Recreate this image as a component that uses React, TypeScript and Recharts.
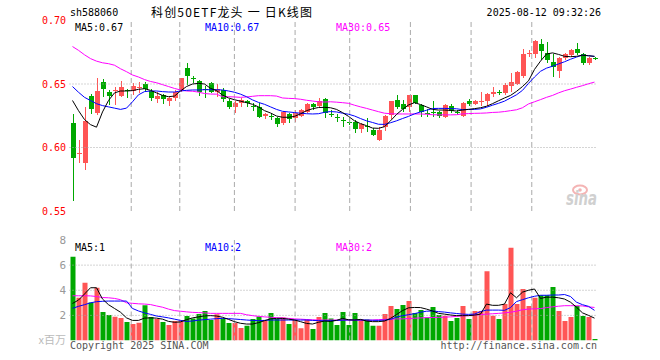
import React from 'react';
import {
  ComposedChart,
  Bar,
  Line,
  XAxis,
  YAxis,
  ReferenceLine,
  ReferenceArea,
  Cell,
} from 'recharts';

const RED = '#ff5555';
const GREEN = '#00a800';
const GRID = '#aaaaaa';
const BORDER = '#999999';
const MONO = '"DejaVu Sans Mono", monospace';
const CJK = '"Noto Sans CJK SC", sans-serif';

const dates = [
  '04-07', '04-08', '04-09', '04-10', '04-11', '04-14', '04-15', '04-16', '04-17', '04-18',
  '04-21', '04-22', '04-23', '04-24', '04-25', '04-28', '04-29', '04-30', '05-06', '05-07',
  '05-08', '05-09', '05-12', '05-13', '05-14', '05-15', '05-16', '05-19', '05-20', '05-21',
  '05-22', '05-23', '05-26', '05-27', '05-28', '05-29', '05-30', '06-03', '06-04', '06-05',
  '06-06', '06-09', '06-10', '06-11', '06-12', '06-13', '06-16', '06-17', '06-18', '06-19',
  '06-20', '06-23', '06-24', '06-25', '06-26', '06-27', '06-30', '07-01', '07-02', '07-03',
  '07-04', '07-07', '07-08', '07-09', '07-10', '07-11', '07-14', '07-15', '07-16', '07-17',
  '07-18', '07-21', '07-22', '07-23', '07-24', '07-25', '07-28', '07-29', '07-30', '07-31',
  '08-01', '08-04', '08-05', '08-06', '08-07', '08-08', '08-11', '08-12',
];

const tickKeys = ['04-21', '05-06', '05-19', '06-03', '06-16', '06-30', '07-14', '07-28', '08-12'];
const tickLabels = ['2025-04-21', '05-06', '05-19', '06-03', '06-16', '06-30', '07-14', '07-28', '08-12'];

const openP = [
  0.6196, 0.595, 0.5881, 0.6408, 0.6274, 0.6518, 0.644, 0.6445, 0.6408, 0.6453,
  0.6448, 0.6471, 0.65, 0.6448, 0.6385, 0.6413, 0.6369, 0.6387, 0.6453, 0.6629,
  0.6547, 0.6524, 0.6458, 0.6505, 0.644, 0.6453, 0.6369, 0.6322, 0.6348, 0.6369,
  0.6324, 0.6316, 0.6248, 0.625, 0.623, 0.6196, 0.6264, 0.623, 0.6248, 0.6282,
  0.6343, 0.6327, 0.6382, 0.6266, 0.624, 0.6214, 0.6204, 0.6203, 0.6143, 0.6166,
  0.6138, 0.6059, 0.6164, 0.6256, 0.6374, 0.6343, 0.6316, 0.6413, 0.6335, 0.6271,
  0.6278, 0.6282, 0.6238, 0.6327, 0.6282, 0.6248, 0.6366, 0.6343, 0.6368, 0.6366,
  0.6419, 0.6435, 0.6427, 0.6484, 0.6497, 0.6563, 0.674, 0.6734, 0.6815, 0.6741,
  0.6671, 0.6605, 0.6702, 0.6728, 0.6776, 0.6734, 0.6668, 0.6703,
];
const closeP = [
  0.592, 0.5955, 0.6209, 0.6303, 0.6445, 0.6461, 0.6408, 0.645, 0.6479, 0.6445,
  0.6484, 0.6475, 0.6458, 0.6392, 0.6408, 0.6382, 0.6392, 0.644, 0.6547, 0.6563,
  0.6542, 0.644, 0.6455, 0.644, 0.6458, 0.6379, 0.6322, 0.6353, 0.6374, 0.6348,
  0.6321, 0.6243, 0.6264, 0.6248, 0.6185, 0.6282, 0.6222, 0.6269, 0.6295, 0.6343,
  0.6322, 0.6366, 0.6274, 0.6264, 0.6238, 0.6211, 0.6201, 0.6143, 0.6185, 0.6164,
  0.6098, 0.6138, 0.6248, 0.6366, 0.6322, 0.63, 0.6413, 0.6353, 0.6282, 0.6269,
  0.6276, 0.6248, 0.6335, 0.629, 0.6269, 0.6348, 0.6343, 0.6366, 0.637, 0.6419,
  0.6437, 0.6434, 0.6492, 0.6513, 0.6594, 0.6736, 0.6744, 0.6839, 0.6762, 0.6689,
  0.6631, 0.6702, 0.6736, 0.6768, 0.6747, 0.6668, 0.6707, 0.67,
];
const highP = [
  0.6264, 0.6059, 0.6316, 0.6419, 0.655, 0.6537, 0.6453, 0.6479, 0.6526, 0.6458,
  0.6505, 0.6513, 0.6513, 0.6461, 0.644, 0.6421, 0.64, 0.6453, 0.655, 0.6668,
  0.6563, 0.6531, 0.6484, 0.6518, 0.65, 0.6466, 0.6379, 0.6369, 0.6387, 0.6374,
  0.6348, 0.6348, 0.6274, 0.6274, 0.6238, 0.629, 0.6274, 0.6295, 0.63, 0.6353,
  0.6353, 0.6387, 0.6392, 0.6295, 0.6264, 0.6238, 0.623, 0.6216, 0.619, 0.623,
  0.6151, 0.6159, 0.6256, 0.6369, 0.6413, 0.6374, 0.6416, 0.6416, 0.6343, 0.6301,
  0.6366, 0.629, 0.6343, 0.6343, 0.6295, 0.6361, 0.6382, 0.6374, 0.644, 0.6427,
  0.6474, 0.6453, 0.6505, 0.6589, 0.66, 0.6773, 0.6768, 0.6847, 0.6852, 0.6833,
  0.6736, 0.671, 0.6741, 0.6773, 0.682, 0.6741, 0.6715, 0.6715,
];
const lowP = [
  0.558, 0.5875, 0.5823, 0.6264, 0.6256, 0.64, 0.6335, 0.6335, 0.64, 0.6387,
  0.6413, 0.6427, 0.644, 0.6369, 0.6348, 0.6343, 0.6327, 0.6369, 0.644, 0.6492,
  0.6505, 0.6408, 0.6387, 0.6427, 0.64, 0.6361, 0.6303, 0.6269, 0.6316, 0.6316,
  0.629, 0.623, 0.6222, 0.6217, 0.6164, 0.6177, 0.6196, 0.6203, 0.6238, 0.6274,
  0.6295, 0.6308, 0.623, 0.6238, 0.6203, 0.6159, 0.6177, 0.6117, 0.6117, 0.6125,
  0.6091, 0.6051, 0.6133, 0.6222, 0.6303, 0.6282, 0.6282, 0.6343, 0.6243, 0.6243,
  0.6238, 0.623, 0.623, 0.6274, 0.6256, 0.6238, 0.6327, 0.6335, 0.6327, 0.6327,
  0.64, 0.6413, 0.6413, 0.644, 0.6492, 0.6545, 0.6715, 0.6702, 0.6689, 0.6668,
  0.6558, 0.6545, 0.6689, 0.671, 0.6728, 0.665, 0.665, 0.6689,
];

const ma5 = [
  0.637, 0.629, 0.622, 0.618, 0.616, 0.628, 0.637, 0.643, 0.6445, 0.6445,
  0.6448, 0.6458, 0.6463, 0.645, 0.643, 0.641, 0.64, 0.6405, 0.6445, 0.648,
  0.65, 0.6505, 0.65, 0.6466, 0.6448, 0.6413, 0.639, 0.6376, 0.6365, 0.6353,
  0.634, 0.632, 0.629, 0.6272, 0.6248, 0.6238, 0.6238, 0.6245, 0.6265, 0.629,
  0.6305, 0.6315, 0.6316, 0.6313, 0.63, 0.6275, 0.6245, 0.621, 0.6188, 0.6172,
  0.6153, 0.6151, 0.6164, 0.621, 0.626, 0.63, 0.6335, 0.6353, 0.6338, 0.632,
  0.63, 0.6295, 0.6295, 0.6292, 0.6287, 0.6295, 0.63, 0.6306, 0.6313, 0.6325,
  0.6345, 0.6368, 0.639, 0.641, 0.6442, 0.648, 0.6525, 0.6615, 0.668, 0.6736,
  0.6745, 0.6733, 0.6718, 0.6715, 0.6718, 0.6727, 0.6722, 0.6718,
];
const ma10 = [
  0.648, 0.6435, 0.6395, 0.637, 0.6345, 0.633, 0.632, 0.631, 0.63, 0.631,
  0.636, 0.6415, 0.644, 0.6445, 0.6445, 0.644, 0.6437, 0.6437, 0.6445, 0.645,
  0.6453, 0.6453, 0.6455, 0.6455, 0.6455, 0.6453, 0.6445, 0.6435, 0.642, 0.64,
  0.6375, 0.6355, 0.634, 0.632, 0.63, 0.6285, 0.628, 0.6275, 0.627, 0.6266,
  0.6264, 0.6266, 0.6277, 0.6283, 0.628, 0.627, 0.6262, 0.6248, 0.6228, 0.621,
  0.6197, 0.6183, 0.6182, 0.6195, 0.621, 0.6228, 0.6245, 0.6265, 0.628, 0.6293,
  0.6307, 0.6308, 0.6308, 0.6306, 0.6305, 0.6298, 0.63, 0.63, 0.6304, 0.6317,
  0.6333, 0.6348, 0.6365, 0.639, 0.6415, 0.645, 0.6505, 0.6555, 0.66, 0.6625,
  0.664, 0.6658, 0.6675, 0.6695, 0.6712, 0.6727, 0.6723, 0.6717,
];
const ma30 = [
  0.6795, 0.6765, 0.673, 0.67, 0.668, 0.6667, 0.666, 0.6648, 0.662, 0.6597,
  0.6571, 0.6555, 0.6535, 0.652, 0.651, 0.6495, 0.648, 0.6465, 0.6453, 0.6445,
  0.6443, 0.6436, 0.6425, 0.6421, 0.642, 0.64, 0.64, 0.6398, 0.6395, 0.6398,
  0.6403, 0.6408, 0.6408, 0.6408, 0.6405, 0.639, 0.6387, 0.6385, 0.638, 0.6372,
  0.6366, 0.636, 0.6358, 0.636, 0.6357, 0.6353, 0.6348, 0.6333, 0.632, 0.6308,
  0.6295, 0.6282, 0.627, 0.6266, 0.6264, 0.6264, 0.6264, 0.6264, 0.6264, 0.6262,
  0.6258, 0.6257, 0.6257, 0.6257, 0.6258, 0.6265, 0.6267, 0.6269, 0.627, 0.6272,
  0.6276, 0.6278, 0.6283, 0.629, 0.6297, 0.6313, 0.6343, 0.636, 0.6377, 0.6395,
  0.641, 0.643, 0.6447, 0.646, 0.6474, 0.6487, 0.6502, 0.6515,
];

// volume, x 1,000,000
const volume = [
  6.67, 3.4, 4.6, 3.03, 4.2, 2.27, 2.03, 1.9, 1.79, 1.47,
  1.31, 1.42, 2.8, 1.87, 1.71, 1.47, 1.23, 1.55, 1.6, 1.95,
  1.76, 2.1, 2.35, 1.63, 2.08, 1.76, 1.39, 1.39, 0.99, 1.18,
  1.71, 1.92, 1.55, 2.18, 1.71, 1.84, 1.31, 1.68, 0.97, 1.68,
  0.92, 1.87, 2.18, 1.76, 1.23, 2.27, 1.23, 2.18, 1.68, 1.68,
  1.18, 1.18, 2.1, 2.74, 2.5, 2.82, 3.14, 2.18, 2.42, 1.84,
  2.66, 2.03, 1.98, 1.55, 1.79, 2.74, 1.71, 2.35, 2.35, 5.52,
  1.98, 1.71, 2.9, 7.38, 2.9, 4.09, 2.74, 3.4, 3.61, 3.61,
  4.25, 2.35, 1.55, 1.87, 2.74, 1.95, 1.87, 0.12,
];
const volMa5 = [
  2.95, 3.22, 3.7, 4.2, 4.2, 3.3, 2.85, 2.55, 2.25, 1.8,
  1.6, 1.6, 1.78, 1.8, 1.78, 1.7, 1.52, 1.45, 1.48, 1.66,
  1.8, 1.88, 1.96, 1.98, 1.95, 1.85, 1.68, 1.5, 1.37, 1.31,
  1.31, 1.42, 1.58, 1.72, 1.76, 1.76, 1.7, 1.63, 1.5, 1.36,
  1.31, 1.45, 1.55, 1.52, 1.6, 1.76, 1.65, 1.63, 1.68, 1.55,
  1.5, 1.5, 1.55, 1.76, 2.06, 2.38, 2.6, 2.63, 2.62, 2.5,
  2.35, 2.16, 2.1, 2.03, 1.98, 1.98, 1.98, 2.02, 2.1, 2.9,
  2.8, 2.8, 2.9, 3.8, 3.4, 3.85, 4.0, 4.1, 3.35, 3.45,
  3.45, 3.4, 3.3, 3.05, 2.65, 2.2, 2.0, 1.78,
];
const volMa10 = [
  2.56, 2.72, 2.85, 3.0, 3.09, 3.12, 3.14, 3.14, 3.14, 3.14,
  2.55, 2.35, 2.2, 2.08, 1.95, 1.88, 1.8, 1.7, 1.6, 1.52,
  1.55, 1.62, 1.66, 1.7, 1.74, 1.76, 1.74, 1.71, 1.67, 1.63,
  1.6, 1.58, 1.6, 1.63, 1.63, 1.63, 1.63, 1.63, 1.63, 1.63,
  1.6, 1.58, 1.57, 1.58, 1.6, 1.62, 1.63, 1.63, 1.63, 1.63,
  1.61, 1.6, 1.62, 1.68, 1.86, 1.98, 2.05, 2.14, 2.25, 2.33,
  2.35, 2.3, 2.26, 2.2, 2.15, 2.1, 2.08, 2.1, 2.3, 2.42,
  2.42, 2.42, 2.4, 2.62, 3.1, 3.25, 3.4, 3.52, 3.6, 3.6,
  3.62, 3.62, 3.66, 3.5, 3.05, 2.85, 2.72, 2.4,
];
const volMa30 = [
  3.56, 3.56, 3.56, 3.55, 3.5, 3.42, 3.4, 3.35, 3.25, 3.0,
  2.96, 2.92, 2.9, 2.86, 2.75, 2.65, 2.5, 2.38, 2.33, 2.28,
  2.24, 2.22, 2.2, 2.16, 2.16, 2.16, 2.16, 2.16, 2.16, 2.05,
  1.98, 1.92, 1.88, 1.85, 1.82, 1.8, 1.76, 1.72, 1.7, 1.67,
  1.65, 1.63, 1.63, 1.63, 1.63, 1.63, 1.63, 1.63, 1.62, 1.61,
  1.63, 1.66, 1.68, 1.7, 1.72, 1.72, 1.75, 1.77, 1.8, 1.82,
  1.83, 1.84, 1.86, 1.88, 1.92, 1.96, 1.98, 2.03, 2.06, 2.1,
  2.13, 2.16, 2.2, 2.25, 2.33, 2.45, 2.5, 2.52, 2.54, 2.62,
  2.68, 2.73, 2.77, 2.77, 2.77, 2.75, 2.68, 2.63,
];

const rows = dates.map((date, i) => ({
  date,
  open: openP[i],
  close: closeP[i],
  high: highP[i],
  low: lowP[i],
  ma5: ma5[i],
  ma10: ma10[i],
  ma30: ma30[i],
  vol: volume[i],
  vma5: volMa5[i],
  vma10: volMa10[i],
  vma30: volMa30[i],
}));

// grid lines sit a little left of the candle centre, like the original
const gridTicks = tickKeys.map((k) => dates.indexOf(k) + 0.17);
const fmtTick = (v: number) => tickLabels[gridTicks.indexOf(v)] ?? '';

function Candle(props: any) {
  const { x, y, width, height, payload } = props;
  if (x == null || !payload) return null;
  const top = Math.min(y, y + height);
  const bottom = Math.max(y, y + height);
  const span = payload.high - payload.low;
  const toPx = (v: number) => (span > 0 ? top + ((payload.high - v) / span) * (bottom - top) : top);
  const up = payload.close >= payload.open;
  const color = up ? RED : GREEN;
  const cx = x + width / 2;
  const bTop = toPx(Math.max(payload.open, payload.close));
  const bBot = toPx(Math.min(payload.open, payload.close));
  return (
    <g shapeRendering="crispEdges">
      <line x1={cx} x2={cx} y1={top} y2={bottom} stroke={color} strokeWidth={1} />
      <rect x={x} y={bTop} width={width} height={Math.max(1, bBot - bTop)} fill={color} />
    </g>
  );
}

const monoTick = (fill: string) => ({ fill, fontSize: 10, fontFamily: MONO });

export default function App() {
  return (
    <div style={{ position: 'relative', width: 660, height: 360, background: '#fff' }}>
      <style>{'body{margin:0}'}</style>

      <div style={{ position: 'absolute', left: 0, top: 0 }}>
        <ComposedChart width={660} height={232} data={rows} margin={{ top: 20.5, right: 62.5, bottom: 0, left: 0 }}>
          <XAxis xAxisId="c" dataKey="date" type="category" hide />
          <XAxis
            xAxisId="g"
            type="number"
            domain={[0, 88]}
            allowDataOverflow
            ticks={gridTicks}
            tickFormatter={fmtTick}
            interval={0}
            height={21}
            axisLine={{ stroke: BORDER }}
            tickLine={false}
            tickSize={0}
            tickMargin={7}
            tick={monoTick('#1479c9')}
          />
          <YAxis
            yAxisId="p"
            domain={[0.55, 0.7]}
            allowDataOverflow
            ticks={[0.55, 0.6, 0.65, 0.7]}
            interval={0}
            width={69.5}
            tickFormatter={(v: number) => v.toFixed(2)}
            axisLine={false}
            tickLine={false}
            tickSize={0}
            tickMargin={3.5}
            tick={monoTick('#ff0000')}
          />
          {[0.6, 0.65].map((v) => (
            <ReferenceLine key={v} xAxisId="g" yAxisId="p" y={v} stroke={GRID} strokeDasharray="1 2" />
          ))}
          {gridTicks.map((t) => (
            <ReferenceLine key={t} xAxisId="g" yAxisId="p" x={t} stroke={GRID} strokeDasharray="5 3" />
          ))}
          <ReferenceArea xAxisId="g" yAxisId="p" x1={0} x2={88} y1={0.55} y2={0.7} fill="none" stroke={BORDER} strokeWidth={1.5} />
          <Bar
            xAxisId="c"
            yAxisId="p"
            dataKey={(d: any) => [d.low, d.high]}
            barSize={5}
            shape={Candle}
            isAnimationActive={false}
          />
          <Line xAxisId="c" yAxisId="p" dataKey="ma30" stroke="#ff00ff" strokeWidth={1} dot={false} isAnimationActive={false} />
          <Line xAxisId="c" yAxisId="p" dataKey="ma10" stroke="#0000ff" strokeWidth={1} dot={false} isAnimationActive={false} />
          <Line xAxisId="c" yAxisId="p" dataKey="ma5" stroke="#000000" strokeWidth={1} dot={false} isAnimationActive={false} />
        </ComposedChart>
      </div>

      <div style={{ position: 'absolute', left: 0, top: 232 }}>
        <ComposedChart width={660} height={128} data={rows} margin={{ top: 8, right: 62.5, bottom: 19.5, left: 0 }}>
          <XAxis xAxisId="c" dataKey="date" type="category" hide />
          <XAxis xAxisId="g" type="number" domain={[0, 88]} allowDataOverflow hide />
          <YAxis
            yAxisId="v"
            domain={[0, 8]}
            allowDataOverflow
            ticks={[2, 4, 6, 8]}
            interval={0}
            width={69.5}
            axisLine={false}
            tickLine={false}
            tickSize={0}
            tickMargin={3.5}
            tick={{ fill: '#999999', fontSize: 11, fontFamily: MONO }}
          />
          {[2, 4, 6].map((v) => (
            <ReferenceLine key={v} xAxisId="g" yAxisId="v" y={v} stroke={GRID} strokeDasharray="1 2" />
          ))}
          {gridTicks.map((t) => (
            <ReferenceLine key={t} xAxisId="g" yAxisId="v" x={t} stroke={GRID} strokeDasharray="5 3" />
          ))}
          <ReferenceArea xAxisId="g" yAxisId="v" x1={0} x2={88} y1={0} y2={8} fill="none" stroke={BORDER} strokeWidth={1.5} />
          <Bar xAxisId="c" yAxisId="v" dataKey="vol" barSize={5} isAnimationActive={false}>
            {rows.map((r, i) => (
              <Cell key={i} fill={r.close >= r.open ? RED : GREEN} />
            ))}
          </Bar>
          <Line xAxisId="c" yAxisId="v" dataKey="vma30" stroke="#ff00ff" strokeWidth={1} dot={false} isAnimationActive={false} />
          <Line xAxisId="c" yAxisId="v" dataKey="vma10" stroke="#0000ff" strokeWidth={1} dot={false} isAnimationActive={false} />
          <Line xAxisId="c" yAxisId="v" dataKey="vma5" stroke="#000000" strokeWidth={1} dot={false} isAnimationActive={false} />
        </ComposedChart>
      </div>

      <svg width={660} height={360} style={{ position: 'absolute', left: 0, top: 0, pointerEvents: 'none' }}>
        <text x={70} y={16} fontFamily={MONO} fontSize={10} fill="#000">sh588060</text>
        <text x={151} y={17} fontFamily={CJK} fontSize={12} fill="#000" textLength={161} lengthAdjust="spacing">
          科创50ETF龙头 一 日K线图
        </text>
        <text x={601} y={16} fontFamily={MONO} fontSize={10} fill="#000" textAnchor="end">2025-08-12 09:32:26</text>

        <text x={75} y={31} fontFamily={MONO} fontSize={10} fill="#000">MA5:0.67</text>
        <text x={205} y={31} fontFamily={MONO} fontSize={10} fill="#0000ff">MA10:0.67</text>
        <text x={336} y={31} fontFamily={MONO} fontSize={10} fill="#ff00ff">MA30:0.65</text>

        <text x={75} y={251} fontFamily={MONO} fontSize={10} fill="#000">MA5:1</text>
        <text x={205} y={251} fontFamily={MONO} fontSize={10} fill="#0000ff">MA10:2</text>
        <text x={336} y={251} fontFamily={MONO} fontSize={10} fill="#ff00ff">MA30:2</text>

        <text x={66} y={344} fontFamily={CJK} fontSize={11} fill="#bbbbbb" textAnchor="end">x百万</text>
        <text x={70} y={349} fontFamily={MONO} fontSize={10} fill="#555">Copyright 2025 SINA.COM</text>
        <text x={597} y={349} fontFamily={MONO} fontSize={10} fill="#555" textAnchor="end">http://finance.sina.com.cn</text>

        <ellipse cx={580} cy={190} rx={7} ry={4.5} fill="none" stroke="#f4b4b4" strokeWidth={2} />
        <circle cx={580} cy={190} r={1.8} fill="#f4b4b4" />
        <text x={566} y={205} fontFamily='"DejaVu Sans", sans-serif' fontSize={19} fontStyle="italic" fontWeight="bold" fill="#d0d0d0" textLength={31} lengthAdjust="spacingAndGlyphs">
          sina
        </text>
      </svg>
    </div>
  );
}
